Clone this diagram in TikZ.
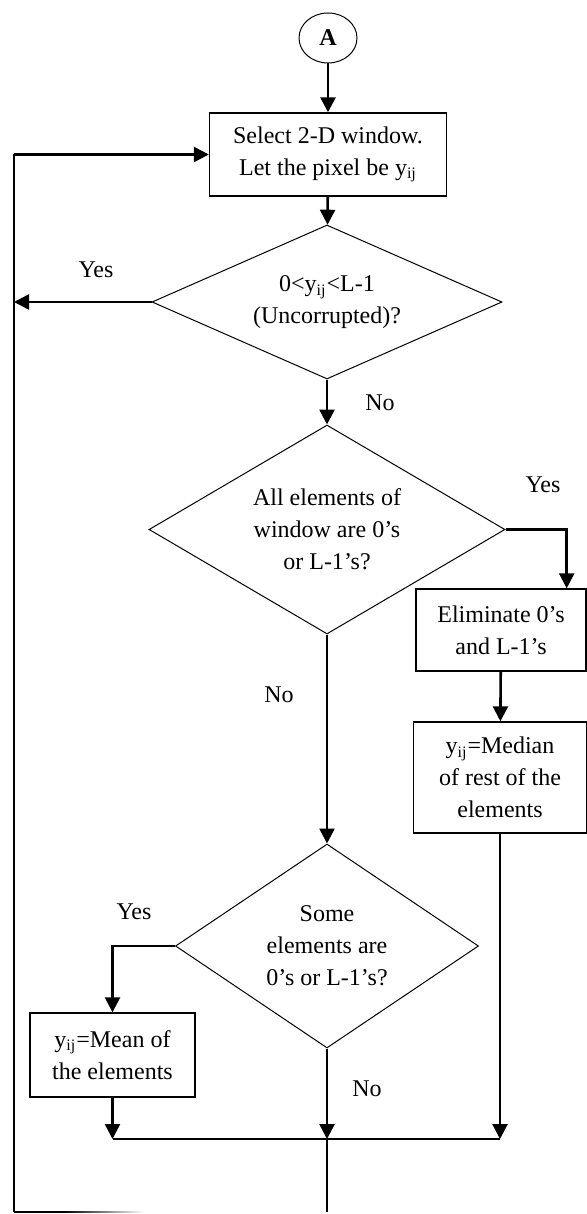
\documentclass[tikz,border=0pt]{standalone}
\usepackage{fontspec}
\setmainfont{Liberation Serif}
\usetikzlibrary{shapes.geometric,arrows.meta,calc}
\tikzset{
  procbox/.style={draw, line width=0.7pt, align=center, inner sep=0pt},
  decision/.style={draw, diamond, line width=0.5pt, align=center, inner sep=0pt},
  flow/.style={line width=1.3pt, -{Triangle[width=7.5pt,length=7.5pt]}},
  wire/.style={line width=0.8pt}
}
\newcommand{\sij}{\textsubscript{ij}}
\begin{document}
\begin{tikzpicture}[x=0.5pt, y=-0.5pt, font=\fontsize{12}{16}\selectfont]
\useasboundingbox (0,0) rectangle (587,1214);

\node[draw, ellipse, line width=0.5pt, minimum width=29pt, minimum height=25pt, inner sep=0pt] (conA) at (328,38) {\textbf{A}};
\node[procbox, minimum width=118.5pt, minimum height=41.5pt] (select) at (328,154.5) {Select 2-D window.\\Let the pixel be y\sij};
\node[decision, aspect=2.27, minimum width=175pt, minimum height=77pt] (uncorr) at (327,302) {0<y\sij<L-1\\(Uncorrupted)?};
\node[decision, aspect=1.7, minimum width=178pt, minimum height=104.5pt] (allsat) at (327,529.5) {All elements of\\window are 0's\\or L-1's?};
\node[procbox, minimum width=85pt, minimum height=41pt] (elim) at (501,630) {Eliminate 0's\\and L-1's};
\node[procbox, minimum width=86.5pt, minimum height=55.5pt] (median) at (500,777.5) {y\sij=Median\\of rest of the\\elements};
\node[decision, aspect=1.49, minimum width=151.5pt, minimum height=102pt] (somesat) at (327,946) {Some\\elements are\\0's or L-1's?};
\node[procbox, minimum width=82.5pt, minimum height=42pt] (mean) at (112.5,1055) {y\sij=Mean of\\the elements};

\node (yes1) at (96,270) {Yes};
\node (no1) at (380,403) {No};
\node (yes2) at (543,485) {Yes};
\node (no2) at (279,695) {No};
\node (yes3) at (134,912) {Yes};
\node (no3) at (367,1089) {No};

\coordinate (loopB) at (14,1212);
\coordinate (join) at (327,1139);

\draw[flow] (conA) -- (select);
\draw[flow] (select) -- (uncorr);
\draw[flow] (uncorr.west) -- (uncorr.west -| loopB);
\draw[flow] (uncorr.south) -- (allsat.north);
\draw[flow] (allsat.east) -| ([xshift=-10pt]elim.north east);
\draw[flow] (elim) -- (median);
\draw[flow] (allsat.south) -- (somesat.north);
\draw[flow] (somesat.west) -| (mean.north);
\draw[flow] (mean.south) -- (mean.south |- join);
\draw[flow] (somesat.south) -- (join);
\draw[flow] (median.south) -- (median.south |- join);
\draw[wire] (mean.south |- join) -- (median.south |- join);
\draw[line width=0.6pt] (join) -- (join |- loopB);

\draw[wire] (loopB) -- (loopB |- select.west);
\draw[flow] (loopB |- select.west) -- (select.west);
\draw[wire] (loopB) -- ++(50,0);
\shade[left color=black, right color=white] ($(loopB)+(50,-0.8)$) rectangle ($(loopB)+(130,0.8)$);
\end{tikzpicture}
\end{document}
